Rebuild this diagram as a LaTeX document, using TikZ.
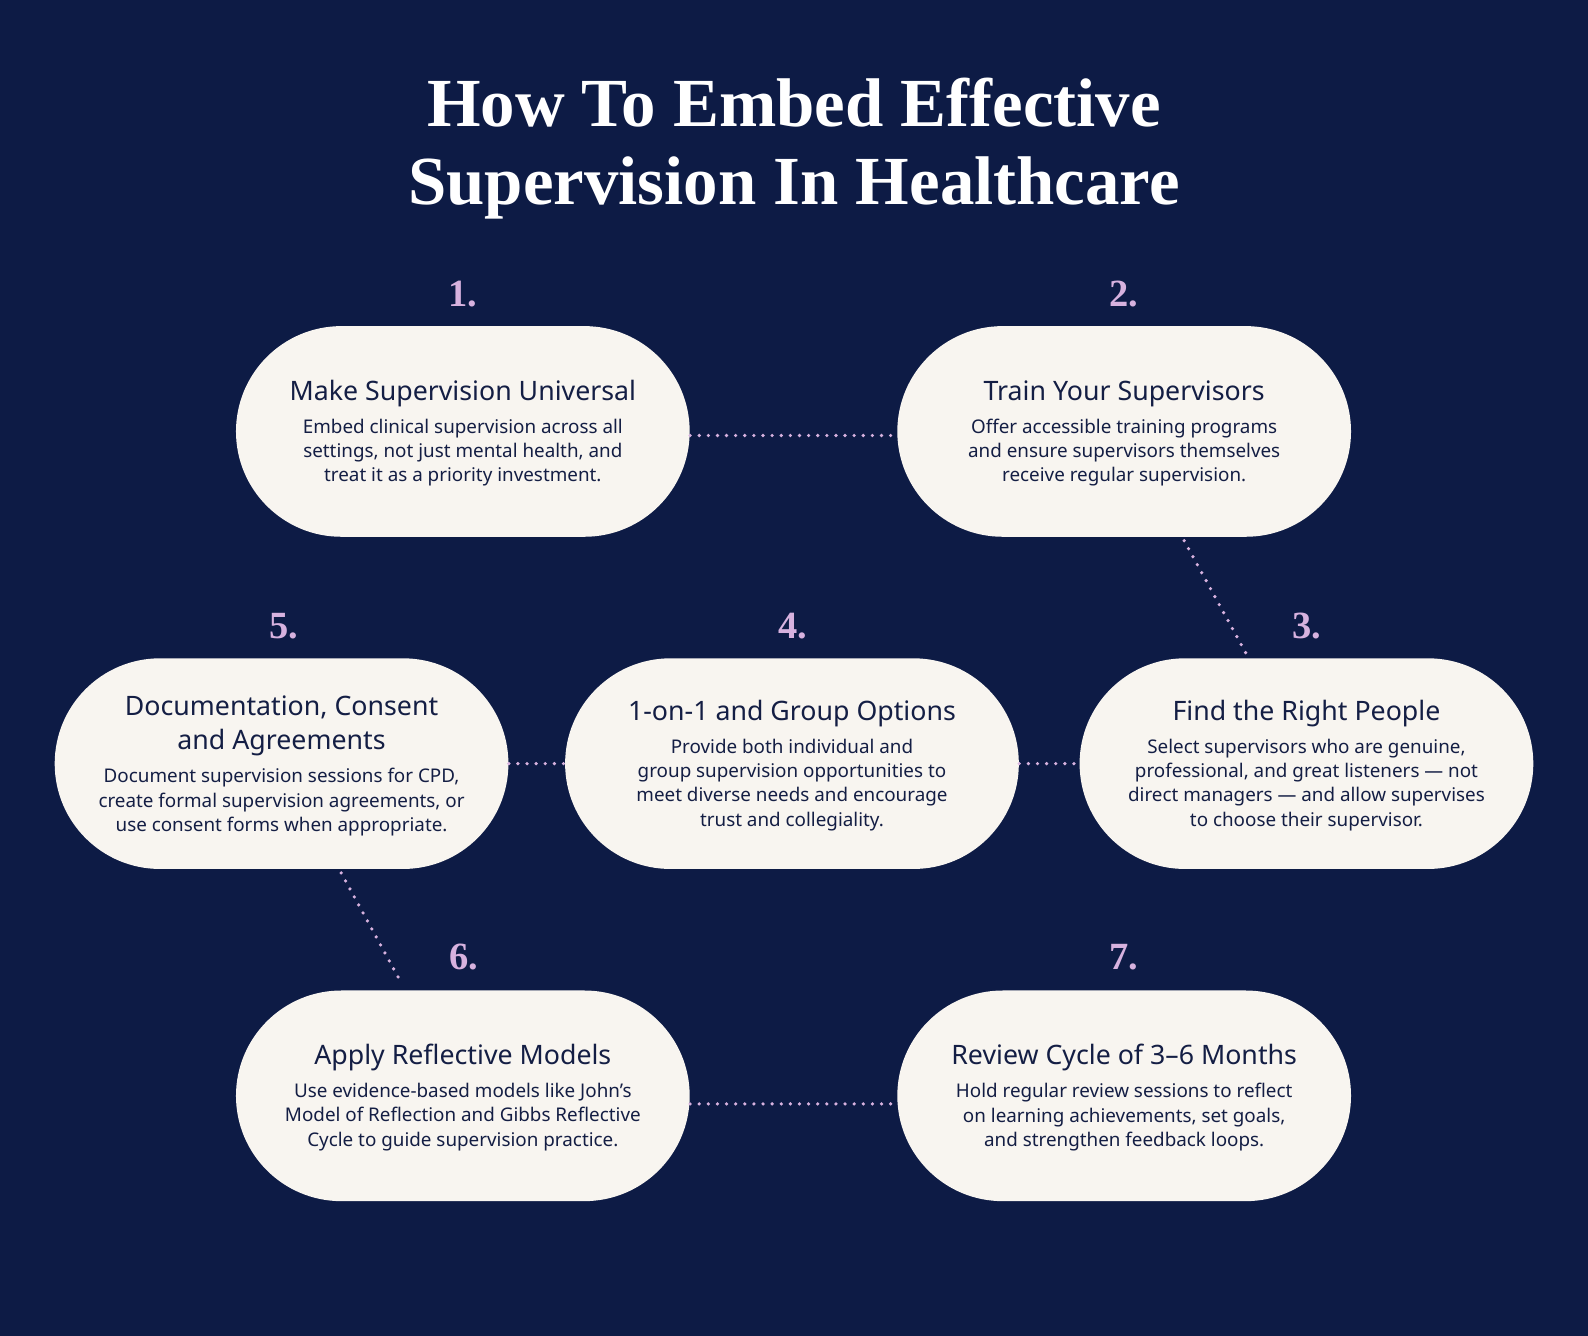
\documentclass[tikz,border=0pt]{standalone}
\usepackage{fontspec}
\setmainfont{Noto Sans}
\newfontfamily\titlefont{Liberation Serif}
\definecolor{bgnavy}{HTML}{0D1B45}
\definecolor{pillc}{HTML}{F8F5F0}
\definecolor{inkc}{HTML}{141E44}
\definecolor{pinkc}{HTML}{D7B2DF}
\tikzset{
 pill/.style={fill=pillc,rounded corners=52pt,minimum width=224pt,minimum height=104pt,text=inkc,align=center,inner sep=0pt,font=\fontsize{9.3pt}{12pt}\selectfont},
 num/.style={text=pinkc,font=\titlefont\bfseries\fontsize{19pt}{19pt}\selectfont},
 dots/.style={pinkc,line width=1.8pt,line cap=round,dash pattern=on 0pt off 4.5pt},
}
\newcommand{\hd}[1]{{\fontsize{13.2pt}{17pt}\selectfont\bfseries\begin{tabular}{@{}c@{}}#1\end{tabular}}\\[3pt]}
\begin{document}
\begin{tikzpicture}[x=0.5pt,y=-0.5pt]
\fill[bgnavy] (0,0) rectangle (1568,1319);
\useasboundingbox (0,0) rectangle (1568,1319);
\node[text=white,align=center,font=\titlefont\bfseries\fontsize{34pt}{38.5pt}\selectfont] (title) at (784,147) {How To Embed Effective\\Supervision In Healthcare};
\node[pill] (p1) at (457,426) {\hd{Make Supervision Universal}Embed clinical supervision across all\\settings, not just mental health, and\\treat it as a priority investment.};
\node[pill] (p2) at (1110,426) {\hd{Train Your Supervisors}Offer accessible training programs\\and ensure supervisors themselves\\receive regular supervision.};
\node[pill] (p5) at (278,754) {\hd{Documentation, Consent\\and Agreements}Document supervision sessions for CPD,\\create formal supervision agreements, or\\use consent forms when appropriate.};
\node[pill] (p4) at (782,754) {\hd{1-on-1 and Group Options}Provide both individual and\\group supervision opportunities to\\meet diverse needs and encourage\\trust and collegiality.};
\node[pill] (p3) at (1290,754) {\hd{Find the Right People}Select supervisors who are genuine,\\professional, and great listeners — not\\direct managers — and allow supervises\\to choose their supervisor.};
\node[pill] (p6) at (457,1082) {\hd{Apply Reflective Models}Use evidence-based models like John’s\\Model of Reflection and Gibbs Reflective\\Cycle to guide supervision practice.};
\node[pill] (p7) at (1110,1082) {\hd{Review Cycle of 3–6 Months}Hold regular review sessions to reflect\\on learning achievements, set goals,\\and strengthen feedback loops.};
\node[num] (n1) at (457,290) {1.};
\node[num] (n2) at (1110,290) {2.};
\node[num] (n5) at (280,618) {5.};
\node[num] (n4) at (783,618) {4.};
\node[num] (n3) at (1290,618) {3.};
\node[num] (n6) at (458,945) {6.};
\node[num] (n7) at (1110,945) {7.};
\draw[dots] ([yshift=-2pt]p1.east) -- ([yshift=-2pt]p2.west);
\draw[dots,shorten <=2pt,shorten >=3pt] (p2) -- (p3);
\draw[dots] (p5.east) -- (p4.west);
\draw[dots] (p4.east) -- (p3.west);
\draw[dots,shorten <=2pt,shorten >=3pt] (p5) -- (p6);
\draw[dots] ([yshift=-4pt]p6.east) -- ([yshift=-4pt]p7.west);
\end{tikzpicture}
\end{document}
